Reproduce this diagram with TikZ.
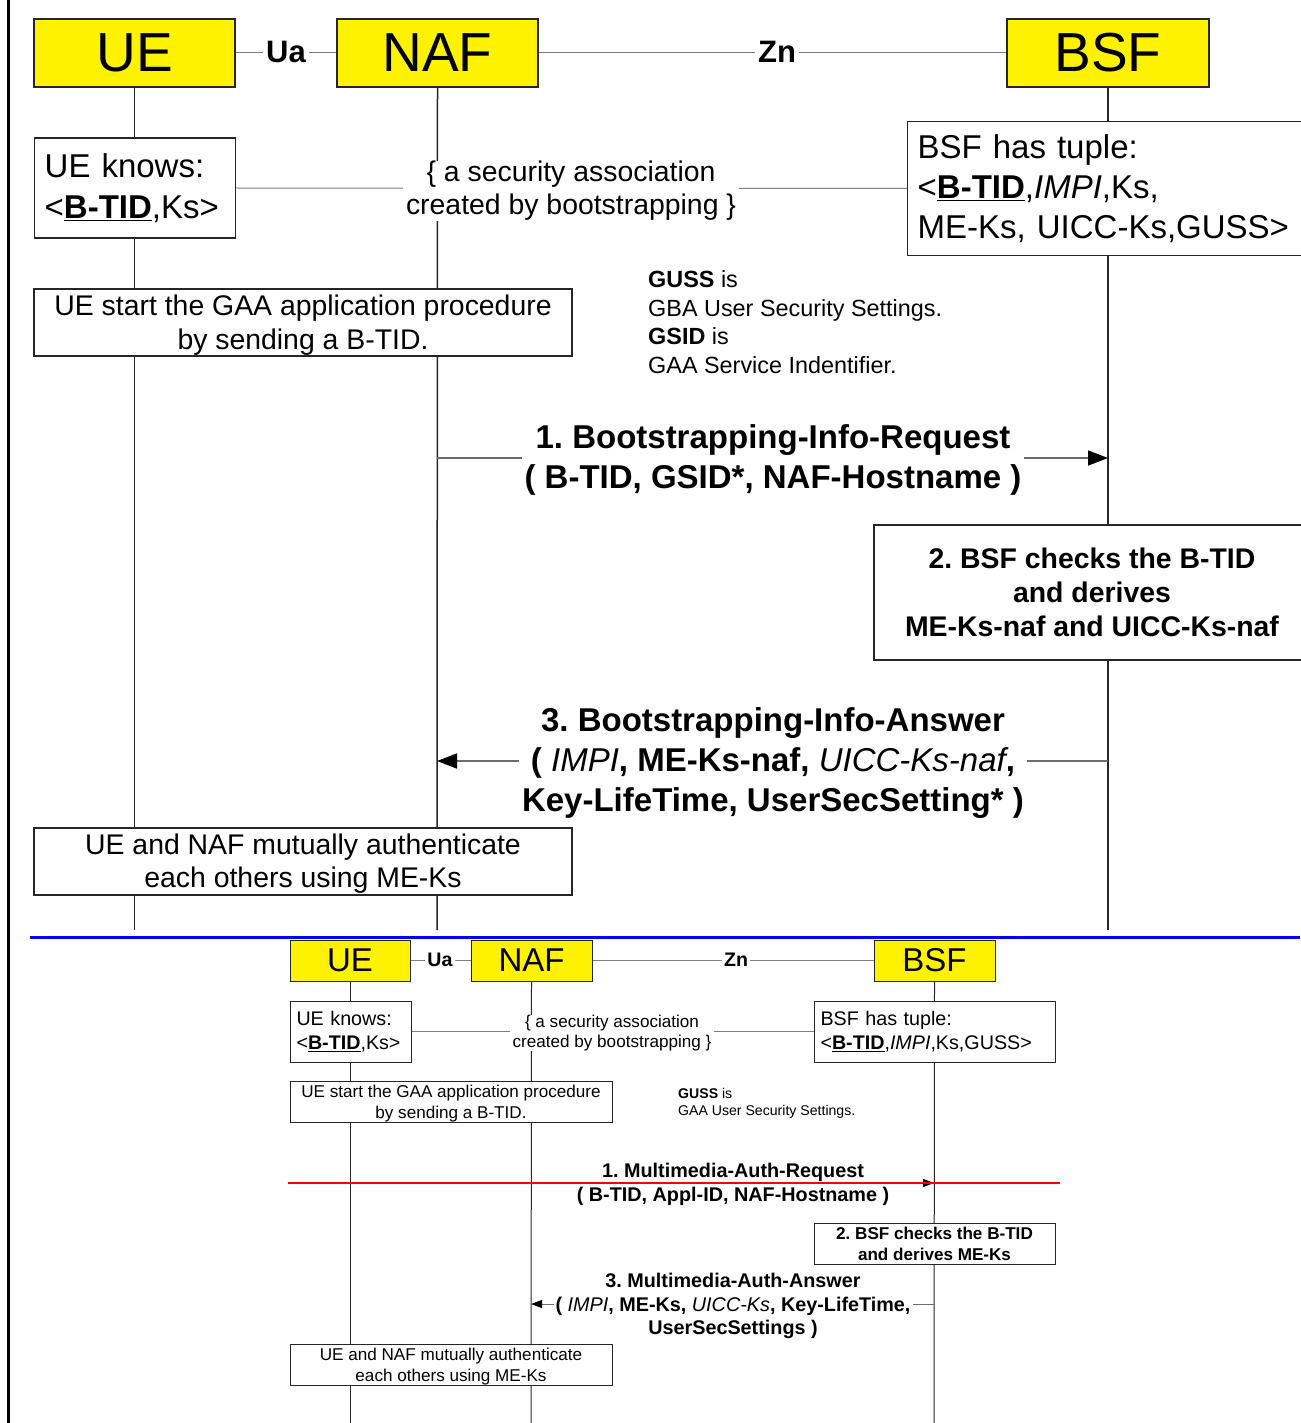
\documentclass[tikz,border=0pt]{standalone}
\usepackage{fontspec}
\setmainfont{Liberation Sans}
\usetikzlibrary{arrows.meta}
\pgfdeclarelayer{bg}
\pgfsetlayers{bg,main}
\newcommand\fsz[2]{\fontsize{#1}{#2}\selectfont}
\newcommand\btid{\underline{\textbf{B-TID}}}
\frenchspacing
\begin{document}
\frenchspacing
\begin{tikzpicture}[x=1pt,y=-1pt,
  boxT/.style={draw=black!85, line width=1.4pt, fill=white, inner sep=0pt},
  boxB/.style={draw=black!85, line width=1pt, fill=white, inner sep=0pt},
  hdrT/.style={boxT, fill=yellow, minimum width=201pt, minimum height=68pt, font=\fsz{55}{60}},
  hdrB/.style={boxB, fill=yellow, minimum width=121pt, minimum height=41pt, font=\fsz{33}{36}},
  lbl/.style={fill=white, inner xsep=3pt, inner ysep=0pt},
  life/.style={line width=1.5pt, black!85},
  lifeB/.style={line width=1pt, black!85},
  link/.style={line width=1pt, gray},
  msgT/.style={line width=1.6pt, gray!85!black, -{Triangle[length=20pt,width=15pt,color=black]}},
  msgB/.style={line width=1pt, gray!85!black, -{Triangle[length=11pt,width=8pt,color=black]}}
]
\useasboundingbox (0,0) rectangle (1300,1423);
% ---------------- top diagram ----------------
\node[hdrT] (ue) at (134.5,53) {UE};
\node[hdrT] (naf) at (437.5,53) {NAF};
\node[hdrT, minimum width=202pt] (bsf) at (1108,53) {BSF};
\node[lbl, font=\fsz{31}{34}\bfseries] (ua) at (286,52) {Ua};
\node[lbl, font=\fsz{31}{34}\bfseries] (zn) at (777,52) {Zn};
\coordinate (ueend) at (134.5,930);
\coordinate (nafend) at (437,930);
\coordinate (bsfend) at (1108,930);

\node[boxT, anchor=west, inner xsep=10pt, text width=181pt, minimum height=100pt, align=left, font=\fsz{33}{41}]
  (uk) at (34,188) {UE knows:\\<\btid,Ks>};
\node[boxT, anchor=west, inner xsep=10pt, text width=380pt, minimum height=134pt, align=left, font=\fsz{33}{40}]
  (bt) at (907,188.5) {BSF has tuple:\\<\btid,\textit{IMPI},Ks,\\ME-Ks, UICC-Ks,GUSS>};
\coordinate (sac) at (571,191);
\node[lbl, align=center, font=\fsz{28.4}{33}] (sa) at (sac) {\{ a security association\\created by bootstrapping \}};

\node[boxT, minimum width=538pt, minimum height=67pt, font=\fsz{28.4}{34}]
  (st) at (303,322.5) {\parbox{530pt}{\vspace*{6pt}\centering UE start the GAA application procedure\\by sending a B-TID.}};
\node[anchor=west, inner sep=0pt, align=left, font=\fsz{23.4}{28.5}]
  (guss) at (648,322) {\textbf{GUSS} is\\GBA User Security Settings.\\\textbf{GSID} is\\GAA Service Indentifier.};

\coordinate (n1) at (437,458);
\coordinate (b1) at (1108,458);
\node[lbl, align=center, font=\fsz{33}{40}\bfseries] (rq) at (773,460)
  {1. Bootstrapping-Info-Request\\( B-TID, GSID*, NAF-Hostname )};

\node[boxT, minimum width=436pt, minimum height=135pt, align=center, font=\fsz{28.4}{34}\bfseries]
  (chk) at (1092,592.5) {2. BSF checks the B-TID\\and derives\\ME-Ks-naf and UICC-Ks-naf};

\coordinate (b3) at (1108,761);
\coordinate (n3) at (437,761);
\node[lbl, align=center, font=\fsz{33}{40}\bfseries] (ans) at (773,763)
  {3. Bootstrapping-Info-Answer\\( {\mdseries\itshape IMPI}, ME-Ks-naf, {\mdseries\itshape UICC-Ks-naf}, \\Key-LifeTime, UserSecSetting* )};

\node[boxT, minimum width=538pt, minimum height=67pt, font=\fsz{28.4}{33}]
  (mu) at (303,861.5) {\parbox{530pt}{\vspace*{4pt}\centering UE and NAF mutually authenticate\\each others using ME-Ks}};

\begin{pgfonlayer}{bg}
  \draw[life] (ue.south) -- (ueend);
  \draw[life] (naf.south) -- (nafend);
  \draw[life] (bsf.south) -- (bsfend);
  \draw[link] (ue.east) -- (naf.west);
  \draw[link] (naf.east) -- (bsf.west);
  \draw[link] (uk.east) -- (bt.west);
  \draw[msgT] (n1) -- (b1);
  \draw[msgT] (b3) -- (n3);
\end{pgfonlayer}

% separators
\coordinate (vl1) at (8,0);
\coordinate (vl2) at (8,1423);
\draw[line width=3pt, black] (vl1) -- (vl2);
\coordinate (bl1) at (30,937);
\coordinate (bl2) at (1300,937);
\draw[line width=3pt, blue] (bl1) -- (bl2);

% ---------------- bottom diagram ----------------
\node[hdrB, minimum width=120pt] (ue2) at (350,960.5) {UE};
\node[hdrB] (naf2) at (531.5,960.5) {NAF};
\node[hdrB] (bsf2) at (934.5,960.5) {BSF};
\node[lbl, inner xsep=2pt, font=\fsz{19.6}{22}\bfseries] (ua2) at (440,960) {Ua};
\node[lbl, inner xsep=2pt, font=\fsz{19.6}{22}\bfseries] (zn2) at (736,960) {Zn};
\coordinate (ueend2) at (350,1423);
\coordinate (nafend2) at (531,1423);
\coordinate (bsfend2) at (934,1423);

\node[boxB, anchor=west, inner xsep=6pt, text width=109pt, minimum height=61pt, align=left, font=\fsz{19.7}{24}]
  (uk2) at (290,1031.5) {UE knows:\\<\btid,Ks>};
\node[boxB, anchor=west, inner xsep=6pt, text width=229pt, minimum height=61pt, align=left, font=\fsz{19.7}{24}]
  (bt2) at (814,1031.5) {BSF has tuple:\\<\btid,\textit{IMPI},Ks,GUSS>};
\coordinate (sac2) at (612,1033);
\node[lbl, align=center, font=\fsz{17.1}{20}] (sa2) at (sac2) {\{ a security association\\created by bootstrapping \}};

\node[boxB, minimum width=322pt, minimum height=40pt, font=\fsz{17.1}{21}]
  (st2) at (451,1102) {\parbox{318pt}{\vspace*{4pt}\centering UE start the GAA application procedure\\by sending a B-TID.}};
\node[anchor=west, inner sep=0pt, align=left, font=\fsz{14.1}{17}]
  (guss2) at (678,1103.5) {\textbf{GUSS} is\\GAA User Security Settings.};

\coordinate (n12) at (531,1183);
\coordinate (b12) at (934,1183);
\node[lbl, align=center, font=\fsz{19.8}{24}\bfseries] (rq2) at (733,1184)
  {1. Multimedia-Auth-Request\\( B-TID, Appl-ID, NAF-Hostname )};

\node[boxB, minimum width=241pt, minimum height=41pt, align=center, font=\fsz{17.1}{21}\bfseries]
  (chk2) at (934.5,1243.5) {2. BSF checks the B-TID\\and derives ME-Ks};

\coordinate (b32) at (934,1304);
\coordinate (n32) at (531,1304);
\node[lbl, inner xsep=2pt, align=center, font=\fsz{19.8}{23.5}\bfseries] (ans2) at (733,1306)
  {3. Multimedia-Auth-Answer\\( {\mdseries\itshape IMPI}, ME-Ks, {\mdseries\itshape UICC-Ks}, Key-LifeTime,\\UserSecSettings )};

\node[boxB, minimum width=322pt, minimum height=40pt, font=\fsz{17.1}{21}]
  (mu2) at (451,1365) {\parbox{318pt}{\vspace*{4pt}\centering UE and NAF mutually authenticate\\each others using ME-Ks}};

\begin{pgfonlayer}{bg}
  \draw[lifeB] (ue2.south) -- (ueend2);
  \draw[lifeB] (naf2.south) -- (nafend2);
  \draw[lifeB] (bsf2.south) -- (bsfend2);
  \draw[link] (ue2.east) -- (naf2.west);
  \draw[link] (naf2.east) -- (bsf2.west);
  \draw[link] (uk2.east) -- (bt2.west);
  \draw[msgB] (n12) -- (b12);
  \draw[msgB] (b32) -- (n32);
\end{pgfonlayer}

\coordinate (rl1) at (288,1183);
\coordinate (rl2) at (1060,1183);
\draw[line width=2pt, red] (rl1) -- (rl2);
\end{tikzpicture}
\end{document}
